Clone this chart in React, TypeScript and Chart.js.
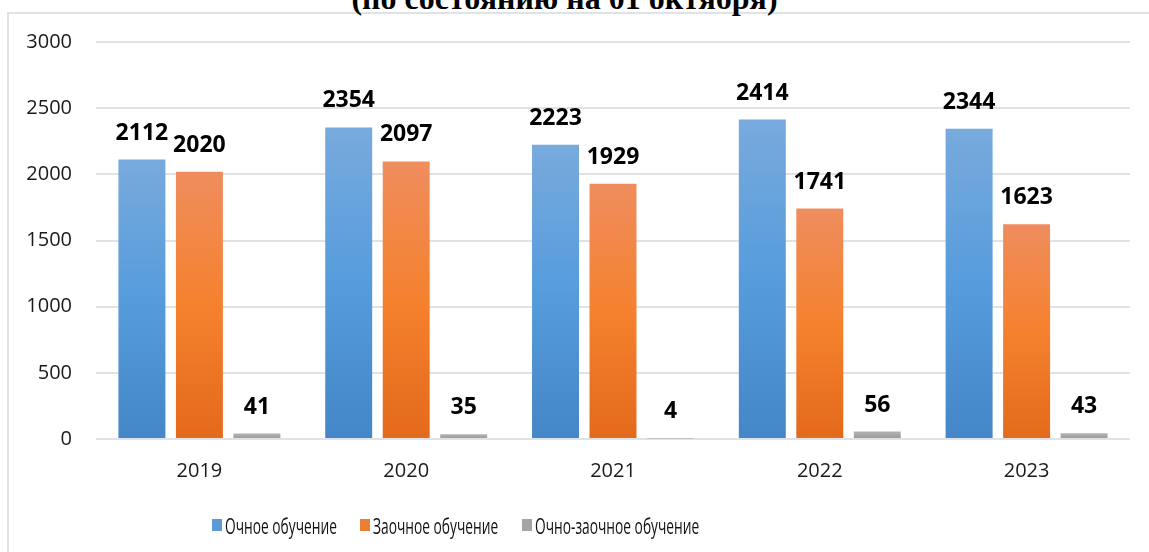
import React, { useEffect, useRef } from "react";
import { Chart, registerables } from "chart.js";

Chart.register(...registerables);

const categories = ["2019", "2020", "2021", "2022", "2023"];
const fullTimeValues = [2112, 2354, 2223, 2414, 2344];
const extramuralValues = [2020, 2097, 1929, 1741, 1623];
const mixedValues = [41, 35, 4, 56, 43];
const seriesNames = ["Очное обучение", "Заочное обучение", "Очно-заочное обучение"];
const yMin = 0;
const yMax = 3000;
const yStep = 500;
const titleText = "(по состоянию на 01 октября)";

const blueStops = ["#78aadd", "#569cdc", "#4486c7"];
const orangeStops = ["#ef8d5e", "#f5812e", "#e36a1b"];
const grayStops = ["#b2b2b2", "#a6a6a6", "#979797"];
const legendColors = ["#5b9bd5", "#ed7d31", "#a5a5a5"];

function gradient(stops: string[]) {
  return (ctx: any) => {
    const chart = ctx.chart;
    const { chartArea, scales } = chart;
    if (!chartArea || ctx.type !== "data" || !scales.y) return stops[1];
    const v = ctx.parsed ? ctx.parsed.y : ctx.raw;
    const y0 = scales.y.getPixelForValue(0);
    const y1 = scales.y.getPixelForValue(v);
    if (!isFinite(y0) || !isFinite(y1) || y0 - y1 < 1) return stops[1];
    const g = chart.ctx.createLinearGradient(0, y1, 0, y0);
    g.addColorStop(0, stops[0]);
    g.addColorStop(0.5, stops[1]);
    g.addColorStop(1, stops[2]);
    return g;
  };
}

const valueLabels = {
  id: "valueLabels",
  afterDatasetsDraw(chart: any) {
    const ctx = chart.ctx;
    ctx.save();
    ctx.font = 'bold 23px "Open Sans"';
    ctx.fillStyle = "#000";
    ctx.textAlign = "center";
    ctx.textBaseline = "alphabetic";
    chart.data.datasets.forEach((ds: any, i: number) => {
      const meta = chart.getDatasetMeta(i);
      meta.data.forEach((el: any, j: number) => {
        ctx.fillText(String(ds.data[j]), el.x, el.y - 20);
      });
    });
    ctx.restore();
  },
};

export default function App() {
  const canvasRef = useRef<HTMLCanvasElement | null>(null);

  useEffect(() => {
    if (!canvasRef.current) return;
    const chart = new Chart(canvasRef.current, {
      type: "bar",
      data: {
        labels: categories,
        datasets: [
          { label: seriesNames[0], data: fullTimeValues, backgroundColor: gradient(blueStops) as any },
          { label: seriesNames[1], data: extramuralValues, backgroundColor: gradient(orangeStops) as any },
          { label: seriesNames[2], data: mixedValues, backgroundColor: gradient(grayStops) as any },
        ],
      },
      options: {
        animation: false,
        responsive: false,
        devicePixelRatio: 1,
        layout: { padding: { left: 10, right: 19, top: 42, bottom: 70 } },
        datasets: {
          bar: { categoryPercentage: 0.834, barPercentage: 0.817 },
        },
        plugins: {
          legend: { display: false },
          tooltip: { enabled: false },
          title: { display: false },
        },
        scales: {
          x: {
            grid: { display: false, drawTicks: false },
            border: { display: false },
            ticks: {
              color: "#1a1a1a",
              font: { family: '"Open Sans"', size: 20 },
              padding: 20,
              maxRotation: 0,
            },
            afterFit: (s: any) => {
              s.height = 43;
            },
          },
          y: {
            min: yMin,
            max: yMax,
            grid: { color: "#dfe3e8", lineWidth: 2, drawTicks: false },
            border: { display: false },
            ticks: {
              stepSize: yStep,
              color: "#1a1a1a",
              font: { family: '"Open Sans"', size: 20 },
              padding: 24,
              callback: (v: any) => String(v),
            },
            afterFit: (s: any) => {
              s.width = 86;
            },
          },
        },
      },
      plugins: [valueLabels],
    });
    return () => chart.destroy();
  }, []);

  const legendLefts = [212, 360, 522];

  return (
    <div
      style={{
        position: "fixed",
        left: 0,
        top: 0,
        width: 1149,
        height: 552,
        background: "#fff",
        overflow: "hidden",
      }}
    >
      <div
        style={{
          position: "absolute",
          left: 7,
          top: 12,
          width: 1200,
          height: 600,
          borderLeft: "2px solid #dfe3e8",
          borderTop: "2px solid #dfe3e8",
        }}
      />
      <div
        style={{
          position: "absolute",
          left: 0,
          top: -18,
          width: 1129,
          textAlign: "center",
          font: 'bold 32px "Liberation Serif"',
          lineHeight: "32px",
          whiteSpace: "nowrap",
          color: "#000",
        }}
      >
        {titleText}
      </div>
      <canvas
        ref={canvasRef}
        width={1149}
        height={552}
        style={{ position: "absolute", left: 0, top: 0, width: 1149, height: 552 }}
      />
      {seriesNames.map((name, i) => (
        <div
          key={name}
          style={{
            position: "absolute",
            left: legendLefts[i],
            top: 512,
            height: 26,
            display: "flex",
            alignItems: "center",
            whiteSpace: "nowrap",
          }}
        >
          <span
            style={{
              display: "inline-block",
              width: 10,
              height: 12,
              background: legendColors[i],
              marginRight: 3,
            }}
          />
          <span
            style={{
              display: "inline-block",
              font: '22px "Open Sans"',
              color: "#111",
              transform: "scaleX(0.625)",
              transformOrigin: "left center",
              lineHeight: "26px",
            }}
          >
            {name}
          </span>
        </div>
      ))}
    </div>
  );
}
